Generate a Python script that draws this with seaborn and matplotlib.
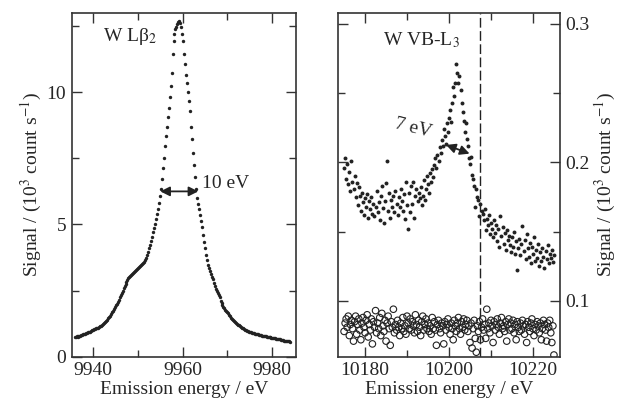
import numpy as np
import seaborn as sns
import matplotlib.pyplot as plt
from matplotlib.ticker import MultipleLocator

sns.set_style("ticks")
plt.rcParams['font.family'] = ['Liberation Serif', 'DejaVu Serif']
plt.rcParams['mathtext.fontset'] = 'stix'

lb2_start, lb2_step = 9935.84, 0.219
lb2_signal = [
    0.76, 0.75, 0.77, 0.76, 0.78, 0.79, 0.80, 0.81,
    0.82, 0.84, 0.85, 0.87, 0.88, 0.90, 0.92, 0.93,
    0.95, 0.97, 0.99, 1.01, 1.03, 1.05, 1.07, 1.08,
    1.10, 1.13, 1.15, 1.17, 1.20, 1.24, 1.28, 1.32,
    1.36, 1.40, 1.45, 1.50, 1.55, 1.61, 1.67, 1.73,
    1.80, 1.87, 1.94, 2.01, 2.08, 2.16, 2.24, 2.32,
    2.40, 2.49, 2.58, 2.67, 2.75, 2.83, 2.90, 2.96,
    3.02, 3.06, 3.10, 3.14, 3.18, 3.21, 3.25, 3.28,
    3.32, 3.35, 3.38, 3.41, 3.45, 3.49, 3.54, 3.59,
    3.65, 3.74, 3.85, 3.97, 4.10, 4.24, 4.39, 4.54,
    4.70, 4.86, 5.03, 5.21, 5.40, 5.60, 5.82, 6.06,
    6.35, 6.72, 7.12, 7.53, 7.95, 8.33, 8.70, 9.05,
    9.40, 9.82, 10.25, 10.72, 11.45, 11.95, 12.22, 12.38,
    12.48, 12.58, 12.66, 12.70, 12.62, 12.45, 12.22, 11.92,
    11.45, 11.05, 10.65, 10.35, 10.00, 9.65, 9.30, 8.70,
    8.25, 7.70, 7.25, 6.80, 6.35, 6.00, 5.78, 5.58,
    5.35, 5.12, 4.92, 4.60, 4.35, 4.10, 3.85, 3.66,
    3.48, 3.35, 3.24, 3.12, 3.00, 2.92, 2.78, 2.66,
    2.55, 2.47, 2.39, 2.33, 2.25, 2.12, 2.02, 1.95,
    1.89, 1.83, 1.78, 1.72, 1.68, 1.64, 1.58, 1.52,
    1.47, 1.43, 1.39, 1.34, 1.30, 1.27, 1.24, 1.21,
    1.18, 1.15, 1.12, 1.10, 1.08, 1.05, 1.02, 1.00,
    0.98, 0.97, 0.95, 0.93, 0.92, 0.91, 0.89, 0.88,
    0.87, 0.86, 0.85, 0.84, 0.83, 0.82, 0.81, 0.80,
    0.79, 0.78, 0.77, 0.77, 0.76, 0.75, 0.74, 0.74,
    0.73, 0.72, 0.71, 0.71, 0.70, 0.69, 0.68, 0.68,
    0.67, 0.66, 0.65, 0.64, 0.63, 0.62, 0.61, 0.61,
    0.60, 0.59, 0.58, 0.58, 0.57,
]

# W VB-L3 region, 0.25 eV steps from 10175 eV
vb_start, vb_step = 10175.0, 0.25
vb_signal = [
    0.196, 0.203, 0.188, 0.199, 0.184, 0.193, 0.179, 0.201,
    0.186, 0.181, 0.190, 0.175, 0.185, 0.169, 0.182, 0.176,
    0.165, 0.178, 0.171, 0.162, 0.174, 0.168, 0.177, 0.160,
    0.172, 0.166, 0.175, 0.163, 0.170, 0.161, 0.168, 0.179,
    0.164, 0.171, 0.158, 0.176, 0.183, 0.167, 0.156, 0.172,
    0.185, 0.201, 0.165, 0.178, 0.160, 0.173, 0.168, 0.176,
    0.164, 0.179, 0.170, 0.162, 0.175, 0.168, 0.181, 0.172,
    0.165, 0.177, 0.159, 0.186, 0.169, 0.152, 0.178, 0.164,
    0.183, 0.170, 0.186, 0.160, 0.176, 0.181, 0.172, 0.178,
    0.174, 0.182, 0.169, 0.176, 0.187, 0.173, 0.181, 0.190,
    0.184, 0.178, 0.192, 0.186, 0.195, 0.189, 0.198, 0.203,
    0.196, 0.205, 0.201, 0.211, 0.207, 0.216, 0.212, 0.224,
    0.219, 0.213, 0.228, 0.222, 0.232, 0.238, 0.229, 0.243,
    0.254, 0.248, 0.257, 0.271, 0.264, 0.257, 0.262, 0.252,
    0.243, 0.236, 0.230, 0.222, 0.228, 0.217, 0.212, 0.203,
    0.199, 0.204, 0.191, 0.188, 0.183, 0.168, 0.181, 0.175,
    0.173, 0.161, 0.170, 0.165, 0.163, 0.158, 0.166, 0.151,
    0.159, 0.155, 0.162, 0.148, 0.156, 0.152, 0.146, 0.158,
    0.149, 0.155, 0.143, 0.152, 0.139, 0.161, 0.147, 0.153,
    0.141, 0.149, 0.137, 0.151, 0.144, 0.147, 0.140, 0.135,
    0.146, 0.139, 0.150, 0.134, 0.143, 0.122, 0.138, 0.145,
    0.133, 0.141, 0.154, 0.136, 0.144, 0.130, 0.148, 0.138,
    0.132, 0.142, 0.127, 0.139, 0.134, 0.146, 0.129, 0.137,
    0.131, 0.141, 0.125, 0.135, 0.129, 0.138, 0.132, 0.124,
    0.136, 0.130, 0.140, 0.127, 0.134, 0.131, 0.137, 0.128,
    0.133,
]

# background (open circles), same energy grid
bg_signal = [
    0.078, 0.084, 0.087, 0.081, 0.089, 0.075, 0.083, 0.086,
    0.080, 0.071, 0.085, 0.089, 0.076, 0.083, 0.087, 0.079,
    0.072, 0.084, 0.088, 0.081, 0.077, 0.086, 0.090, 0.074,
    0.083, 0.079, 0.087, 0.069, 0.085, 0.081, 0.093, 0.077,
    0.084, 0.080, 0.088, 0.075, 0.091, 0.082, 0.078, 0.086,
    0.071, 0.084, 0.089, 0.080, 0.068, 0.085, 0.081, 0.094,
    0.077, 0.083, 0.079, 0.086, 0.081, 0.075, 0.084, 0.080,
    0.088, 0.078, 0.082, 0.076, 0.089, 0.084, 0.080, 0.087,
    0.079, 0.085, 0.082, 0.077, 0.090, 0.083, 0.078, 0.086,
    0.081, 0.075, 0.085, 0.089, 0.079, 0.083, 0.087, 0.080,
    0.084, 0.078, 0.082, 0.076, 0.088, 0.080, 0.085, 0.079,
    0.068, 0.083, 0.086, 0.080, 0.077, 0.084, 0.082, 0.069,
    0.085, 0.079, 0.083, 0.087, 0.081, 0.076, 0.084, 0.080,
    0.072, 0.086, 0.082, 0.078, 0.084, 0.088, 0.080, 0.076,
    0.085, 0.081, 0.087, 0.079, 0.083, 0.086, 0.078, 0.082,
    0.070, 0.084, 0.066, 0.080, 0.086, 0.073, 0.063, 0.082,
    0.078, 0.085, 0.072, 0.081, 0.087, 0.079, 0.083, 0.073,
    0.094, 0.080, 0.084, 0.077, 0.086, 0.082, 0.070, 0.085,
    0.079, 0.083, 0.087, 0.081, 0.076, 0.084, 0.088, 0.080,
    0.082, 0.078, 0.085, 0.071, 0.083, 0.087, 0.079, 0.084,
    0.080, 0.086, 0.077, 0.083, 0.072, 0.085, 0.081, 0.078,
    0.084, 0.079, 0.086, 0.082, 0.076, 0.083, 0.070, 0.085,
    0.081, 0.078, 0.084, 0.087, 0.080, 0.075, 0.083, 0.079,
    0.085, 0.082, 0.077, 0.084, 0.072, 0.080, 0.086, 0.083,
    0.079, 0.071, 0.084, 0.081, 0.086, 0.077, 0.070, 0.082,
    0.061,
]

l3_edge = 10207.3
fwhm_lb2 = (9955.0, 9963.5, 6.25)
fwhm_vb = (10199.3, 10204.9, 0.2125, 0.2062)

lb2_energy = lb2_start + lb2_step * np.arange(len(lb2_signal))
vb_energy = vb_start + vb_step * np.arange(len(vb_signal))

fig = plt.figure(figsize=(6.29, 4.03), dpi=100)
ax1 = fig.add_axes([0.114, 0.115, 0.357, 0.853])
ax2 = fig.add_axes([0.537, 0.115, 0.353, 0.853])

sns.scatterplot(x=lb2_energy, y=lb2_signal, ax=ax1, color='#222222',
                s=6, linewidth=0)
sns.scatterplot(x=vb_energy, y=vb_signal, ax=ax2, color='#222222',
                s=8, linewidth=0)
sns.scatterplot(x=vb_energy, y=bg_signal, ax=ax2, facecolors='none',
                edgecolor='#222222', s=22, linewidth=0.8)

ax2.axvline(l3_edge, color='#222222', lw=1.0, ls=(0, (7, 2.5)))

ax1.set_xlim(9935.2, 9985.4)
ax1.set_ylim(0, 13.0)
ax1.xaxis.set_major_locator(MultipleLocator(20))
ax1.xaxis.set_minor_locator(MultipleLocator(10))
ax1.yaxis.set_major_locator(MultipleLocator(5))
ax1.yaxis.set_minor_locator(MultipleLocator(2.5))

ax2.set_xlim(10173.5, 10226.4)
ax2.set_ylim(0.0598, 0.3077)
ax2.xaxis.set_major_locator(MultipleLocator(20))
ax2.xaxis.set_minor_locator(MultipleLocator(10))
ax2.yaxis.set_major_locator(MultipleLocator(0.1))
ax2.yaxis.set_minor_locator(MultipleLocator(0.05))
ax2.yaxis.tick_right()
ax2.yaxis.set_label_position('right')
ax2.set_yticks([0.1, 0.2, 0.3])
ax2.set_yticklabels(['0.1', '0.2', '0.3'])

ylab = 'Signal / (10$^{3}$ count s$^{-1}$)'
for ax in (ax1, ax2):
    ax.set_xlabel('Emission energy / eV', fontsize=14, labelpad=1)
    ax.set_ylabel(ylab, fontsize=14, labelpad=2)
    ax.tick_params(which='both', direction='in', top=True, bottom=True,
                   left=True, right=True, labelsize=14, color='#333333',
                   width=1.0, pad=4)
    ax.tick_params(which='major', length=7)
    ax.tick_params(which='minor', length=5)
    for sp in ax.spines.values():
        sp.set_linewidth(1.2)
        sp.set_color('#333333')

ax1.text(9942.2, 12.1, 'W Lβ$_2$', fontsize=14, ha='left', va='center')
ax1.annotate('', xy=(fwhm_lb2[0], fwhm_lb2[2]), xytext=(fwhm_lb2[1], fwhm_lb2[2]),
             arrowprops=dict(arrowstyle='<|-|>', color='#222222', lw=1.3,
                             mutation_scale=14, shrinkA=0, shrinkB=0))
ax1.text(9964.3, 6.55, '10 eV', fontsize=14, ha='left', va='center')

ax2.text(10184.3, 0.288, 'W VB-L$_3$', fontsize=14, ha='left', va='center')
ax2.annotate('', xy=(fwhm_vb[0], fwhm_vb[2]), xytext=(fwhm_vb[1], fwhm_vb[3]),
             arrowprops=dict(arrowstyle='<|-|>', color='#222222', lw=1.3,
                             mutation_scale=14, shrinkA=0, shrinkB=0))
ax2.text(10191.4, 0.2245, '7 eV', fontsize=14, ha='center', va='center',
         rotation=-14)

fig.savefig('out.png', dpi=100)
